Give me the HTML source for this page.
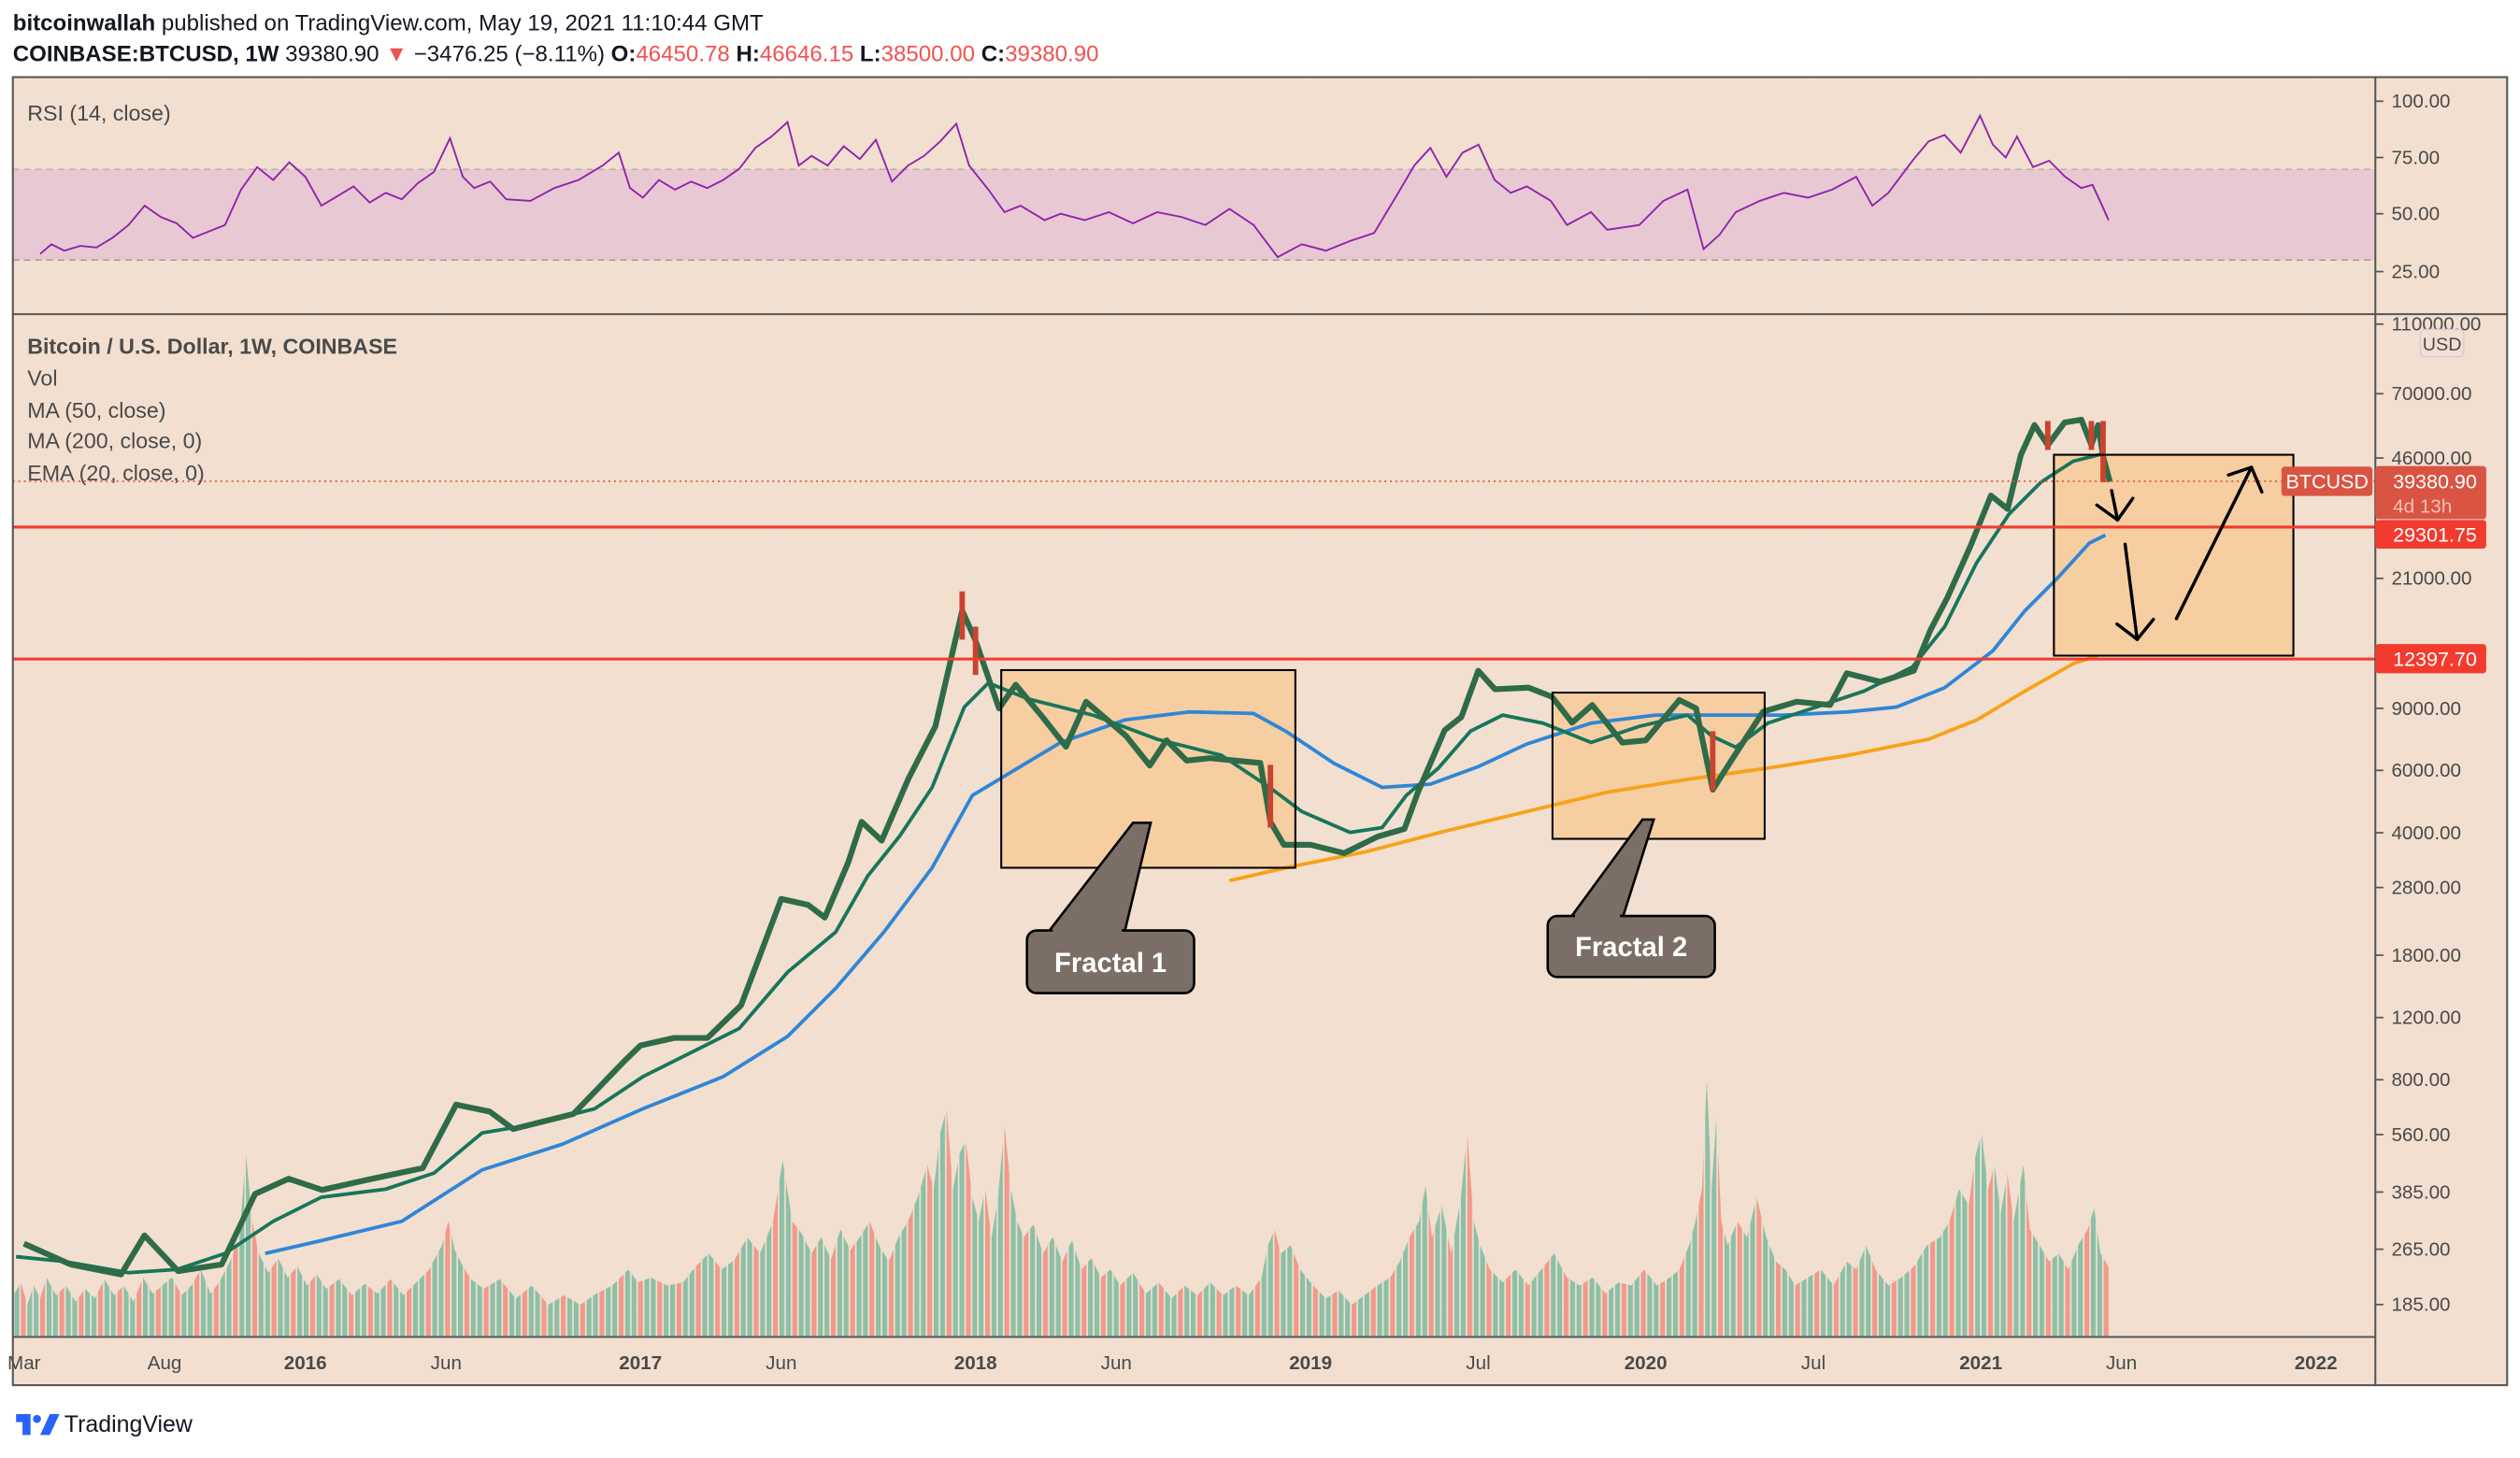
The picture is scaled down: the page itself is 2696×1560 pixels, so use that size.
<!DOCTYPE html>
<html><head><meta charset="utf-8"><style>
html,body{margin:0;padding:0;background:#fff;width:2696px;height:1560px;overflow:hidden}
svg{display:block}
text{font-family:"Liberation Sans",sans-serif}
</style></head><body>
<svg width="2696" height="1560" viewBox="0 0 1568 907.3" xmlns="http://www.w3.org/2000/svg">
<defs>
<pattern id="vp" x="9" y="0" width="12" height="907" patternUnits="userSpaceOnUse">
<rect x="0" y="0" width="3" height="907" fill="#8cc0a6"/>
<rect x="4" y="0" width="3" height="907" fill="#f09a8c"/>
<rect x="8" y="0" width="3" height="907" fill="#8cc0a6"/>
</pattern>
</defs>
<rect x="0" y="0" width="1568" height="907.3" fill="#fff"/>
<text x="8" y="19" font-size="14" fill="#131722"><tspan font-weight="bold">bitcoinwallah</tspan> published on TradingView.com, May 19, 2021 11:10:44 GMT</text>
<text x="8" y="38" font-size="14" fill="#131722"><tspan font-weight="bold">COINBASE:BTCUSD, 1W</tspan> 39380.90 <tspan fill="#ef5350">▼</tspan> −3476.25 (−8.11%) <tspan font-weight="bold">O:</tspan><tspan fill="#ef5350">46450.78</tspan> <tspan font-weight="bold">H:</tspan><tspan fill="#ef5350">46646.15</tspan> <tspan font-weight="bold">L:</tspan><tspan fill="#ef5350">38500.00</tspan> <tspan font-weight="bold">C:</tspan><tspan fill="#ef5350">39380.90</tspan></text>
<rect x="8" y="48" width="1552" height="814" fill="#f2dfcf"/>
<!-- grid -->
<g stroke="#ebe3dc" stroke-width="0.9">
<line x1="15" x2="15" y1="48" y2="832"/><line x1="102.4" x2="102.4" y1="48" y2="832"/><line x1="190" x2="190" y1="48" y2="832"/><line x1="277.6" x2="277.6" y1="48" y2="832"/><line x1="398.5" x2="398.5" y1="48" y2="832"/><line x1="486.1" x2="486.1" y1="48" y2="832"/><line x1="607" x2="607" y1="48" y2="832"/><line x1="694.6" x2="694.6" y1="48" y2="832"/><line x1="815.5" x2="815.5" y1="48" y2="832"/><line x1="919.8" x2="919.8" y1="48" y2="832"/><line x1="1024" x2="1024" y1="48" y2="832"/><line x1="1128.3" x2="1128.3" y1="48" y2="832"/><line x1="1232.5" x2="1232.5" y1="48" y2="832"/><line x1="1320" x2="1320" y1="48" y2="832"/><line x1="1441" x2="1441" y1="48" y2="832"/>
<line x1="8" x2="1478" y1="63" y2="63"/><line x1="8" x2="1478" y1="98" y2="98"/><line x1="8" x2="1478" y1="133" y2="133"/><line x1="8" x2="1478" y1="169" y2="169"/>
<line x1="8" x2="1478" y1="201.7" y2="201.7"/><line x1="8" x2="1478" y1="245" y2="245"/><line x1="8" x2="1478" y1="285" y2="285"/><line x1="8" x2="1478" y1="359.9" y2="359.9"/><line x1="8" x2="1478" y1="440.8" y2="440.8"/><line x1="8" x2="1478" y1="479.4" y2="479.4"/><line x1="8" x2="1478" y1="518.2" y2="518.2"/><line x1="8" x2="1478" y1="552.3" y2="552.3"/><line x1="8" x2="1478" y1="594.4" y2="594.4"/><line x1="8" x2="1478" y1="633.2" y2="633.2"/><line x1="8" x2="1478" y1="671.9" y2="671.9"/><line x1="8" x2="1478" y1="706" y2="706"/><line x1="8" x2="1478" y1="741.8" y2="741.8"/><line x1="8" x2="1478" y1="777.4" y2="777.4"/><line x1="8" x2="1478" y1="811.8" y2="811.8"/>
</g>
<rect x="8" y="105.4" width="1470" height="56.5" fill="#e8c9d3"/>
<line x1="8" x2="1478" y1="105.4" y2="105.4" stroke="#b9a9a9" stroke-dasharray="4,3" stroke-width="0.8"/>
<line x1="8" x2="1478" y1="161.9" y2="161.9" stroke="#9e9696" stroke-dasharray="4,3" stroke-width="0.8"/>
<text x="17" y="75" font-size="13.5" fill="#4a4a4a">RSI (14, close)</text>
<polyline fill="none" stroke="#8e24aa" stroke-width="1.1" points="25,158 32,152 40,156 50,153 60,154 70,148 80,140 90,128 100,135 110,139 120,148 130,144 140,140 150,118 160,104 170,112 180,101 190,110 200,128 210,122 220,116 230,126 240,120 250,124 260,114 270,107 280,86 288,110 295,117 305,113 315,124 330,125 345,117 360,112 375,103 385,95 392,117 400,123 410,112 420,118 430,113 440,117 450,112 460,105 470,92 480,85 490,76 497,103 505,97 515,103 525,91 535,99 545,87 555,113 565,103 575,97 585,88 595,77 603,103 615,118 625,132 635,128 650,137 660,133 675,137 690,132 705,139 720,132 735,135 750,140 765,130 780,140 795,160 810,152 825,156 840,150 855,145 870,120 880,103 890,92 900,110 910,95 920,90 930,112 940,120 950,116 965,125 975,140 990,132 1000,143 1020,140 1035,125 1050,118 1060,155 1070,146 1080,132 1095,125 1110,120 1125,123 1140,118 1155,110 1165,128 1175,120 1190,100 1200,88 1210,84 1220,95 1232,72 1240,90 1248,98 1255,85 1265,104 1275,100 1285,110 1295,117 1302,115 1308,128 1312,137"/>
<!-- volume -->
<polygon fill="url(#vp)" points="9,805 13,798 17,812 21,800 25,808 29,795 35,806 41,800 47,810 53,802 59,808 65,796 71,806 77,800 83,810 89,795 95,805 101,800 107,795 113,806 119,800 125,790 131,805 137,797 143,785 149,770 153,718 157,760 161,780 167,792 173,783 179,795 185,788 191,800 197,793 203,802 211,796 219,806 227,799 235,805 243,796 251,806 259,798 267,790 275,775 279,760 283,778 287,786 293,796 301,802 311,796 321,808 331,800 341,812 351,806 361,812 371,805 381,800 391,790 397,798 405,795 415,800 425,798 433,788 441,780 449,790 457,784 465,770 473,780 481,760 487,722 493,760 499,768 505,780 511,770 517,784 523,765 529,778 535,770 541,760 547,775 553,785 559,770 565,760 571,745 577,725 581,740 585,705 589,690 593,740 597,718 601,710 605,745 609,760 613,740 617,770 621,745 625,700 629,740 633,760 637,770 643,762 649,780 655,770 661,785 667,772 673,790 679,783 685,795 691,790 697,800 705,792 713,805 721,798 729,808 737,800 745,806 753,798 761,806 769,800 777,806 785,795 789,775 793,765 797,780 803,775 809,790 817,800 825,808 833,803 841,812 849,806 857,800 865,795 871,785 877,770 883,760 887,738 891,770 897,750 903,780 909,745 913,705 917,760 921,775 927,790 935,798 943,790 951,800 959,790 967,780 975,795 983,800 991,795 999,805 1007,798 1015,800 1023,790 1031,800 1039,795 1045,790 1051,775 1055,760 1059,740 1062,672 1065,740 1068,695 1071,760 1075,775 1081,760 1087,770 1093,745 1099,770 1105,785 1111,790 1117,800 1125,795 1133,790 1141,800 1149,785 1155,790 1161,775 1167,790 1175,800 1183,795 1191,788 1199,775 1207,770 1213,760 1219,740 1225,750 1229,720 1233,705 1237,740 1241,725 1245,755 1249,730 1253,760 1259,725 1263,765 1269,775 1275,785 1281,780 1287,790 1293,775 1299,765 1303,752 1307,780 1313,790 1313,832 9,832"/>
<!-- boxes -->
<rect x="623" y="417" width="183" height="123" fill="#f6cea2"/>
<rect x="966" y="431" width="132" height="91" fill="#f6cea2"/>
<rect x="1278" y="283" width="149" height="125" fill="#f6cea2"/>
<!-- MAs -->
<polyline fill="none" stroke="#f7a21b" stroke-width="2.2" points="765,548 800,540 850,530 900,517 950,505 1000,493 1050,485 1100,478 1150,470 1200,460 1230,448 1260,430 1290,413 1305,408"/>
<polyline fill="none" stroke="#2f86d6" stroke-width="2.2" points="165,780 200,772 250,760 300,728 350,712 400,690 450,670 490,645 520,615 550,580 580,540 605,495 630,480 660,462 700,448 740,443 780,444 800,455 830,475 860,490 890,488 920,477 950,463 990,450 1030,445 1070,445 1110,445 1150,443 1180,440 1210,428 1240,405 1260,380 1280,360 1300,338 1310,333"/>
<polyline fill="none" stroke="#17755a" stroke-width="2.2" points="10,782 40,785 80,792 110,790 140,780 170,760 200,745 240,740 270,730 300,705 330,700 370,690 400,670 430,655 460,640 490,605 520,580 540,545 560,520 580,490 600,440 615,425 640,435 680,445 720,460 760,470 790,490 810,505 840,518 860,515 875,495 895,478 915,455 935,445 960,450 990,462 1020,452 1050,445 1065,458 1080,465 1100,450 1130,440 1160,430 1190,415 1210,390 1230,350 1250,320 1270,300 1290,287 1310,282"/>
<!-- price -->
<polyline fill="none" stroke="#2f6b48" stroke-width="3.6" stroke-linejoin="round" points="14.9,773.9 44,786.9 75.3,793.1 89.9,768.8 110.8,791 137.9,786.9 158.7,743 179.6,733.5 200.4,740.5 231.7,733.5 263,726.9 283.8,687.4 304.7,691.7 319.3,702.6 356.8,693.2 388.1,660.7 398.5,650.6 419.4,645.9 440.2,645.9 461.1,625.6 486.1,559.4 502.8,563.1 513.2,571 527.8,536.6 536.1,511.4 548.6,523.1 565.3,484.4 582,452 598.7,380 607,398.6 621.6,440.8 632,426.1 648.7,446.2 663.3,464.7 675.8,436.7 700.8,458.1 715.4,476.4 725.8,460.7 738.4,473.3 752.9,471.8 784.2,474.8 790.5,511.4 798.8,525.7 815.5,525.7 836.4,530.9 857.2,520.6 873.9,515.8 882.2,493.2 898.9,454.4 909.3,446.2 919.8,417.4 930.2,428.9 951.1,427.9 965.7,433.6 978.2,449.7 990.7,438.7 1009.5,462.1 1024,460.7 1044.9,435.6 1055.3,440.8 1065.7,491.4 1078.2,471.8 1097,442.9 1117.9,436.7 1138.7,438.7 1149.1,419 1170,424.3 1190.8,417.4 1201.2,392 1211.7,371.9 1226.2,339.5 1238.8,308.4 1249.2,316.7 1257.5,282.9 1265.9,264.5 1274.2,277 1284.6,262.9 1295.1,261.2 1301.3,277 1305.5,264.5 1308.6,284.1 1312.8,299.8"/>
<g stroke="#c9442f" stroke-width="3.4">
<line x1="598.7" y1="368" x2="598.7" y2="398"/><line x1="607" y1="390" x2="607" y2="420"/><line x1="790.5" y1="476" x2="790.5" y2="515"/><line x1="1065.7" y1="455" x2="1065.7" y2="492"/><line x1="1308.6" y1="262" x2="1308.6" y2="300"/><line x1="1274.2" y1="262" x2="1274.2" y2="280"/><line x1="1301.3" y1="262" x2="1301.3" y2="280"/>
</g>
<rect x="623" y="417" width="183" height="123" fill="none" stroke="#000" stroke-width="1.2"/>
<rect x="966" y="431" width="132" height="91" fill="none" stroke="#000" stroke-width="1.2"/>
<rect x="1278" y="283" width="149" height="125" fill="none" stroke="#000" stroke-width="1.2"/>
<line x1="8" x2="1478" y1="299.5" y2="299.5" stroke="#e0533f" stroke-dasharray="1.2,2.2" stroke-width="0.9"/>
<line x1="8" x2="1478" y1="328" y2="328" stroke="#f23b2e" stroke-width="1.8"/>
<line x1="8" x2="1478" y1="410.1" y2="410.1" stroke="#f23b2e" stroke-width="1.8"/>
<!-- callouts -->
<path d="M653,579 L705,512 L716,512 L700,579 Z" fill="#7a6e66" stroke="#000" stroke-width="1.5"/>
<rect x="639" y="579" width="104" height="39" rx="6" fill="#7a6e66" stroke="#000" stroke-width="1.5"/>
<line x1="655" x2="698" y1="579" y2="579" stroke="#7a6e66" stroke-width="2.5"/>
<text x="691" y="605" font-size="17" font-weight="bold" fill="#fff" text-anchor="middle">Fractal 1</text>
<path d="M978,570 L1022,510 L1029,510 L1010,570 Z" fill="#7a6e66" stroke="#000" stroke-width="1.5"/>
<rect x="963" y="570" width="104" height="38" rx="6" fill="#7a6e66" stroke="#000" stroke-width="1.5"/>
<line x1="980" x2="1008" y1="570" y2="570" stroke="#7a6e66" stroke-width="2.5"/>
<text x="1015" y="595" font-size="17" font-weight="bold" fill="#fff" text-anchor="middle">Fractal 2</text>
<!-- arrows -->
<g stroke="#000" stroke-width="2" fill="none" stroke-linecap="round" stroke-linejoin="round">
<path d="M1313.9,305.3 L1317.6,323.6"/><path d="M1304.7,314.3 L1317.6,323.6 L1327.1,310.1"/>
<path d="M1322.3,338.7 L1329.8,397.9"/><path d="M1317.2,388.3 L1329.8,397.9 L1339.9,385.4"/>
<path d="M1354.2,385 L1400.9,290.8"/><path d="M1386.6,295.6 L1400.9,290.8 L1407.4,306.2"/>
</g>
<!-- legend -->
<g font-size="13.5" fill="#4a4a4a">
<text x="17" y="220" font-weight="bold">Bitcoin / U.S. Dollar, 1W, COINBASE</text>
<text x="17" y="240">Vol</text>
<text x="17" y="260">MA (50, close)</text>
<text x="17" y="279">MA (200, close, 0)</text>
<text x="17" y="299">EMA (20, close, 0)</text>
</g>
<!-- frame -->
<g stroke="#555" stroke-width="1.2" fill="none">
<rect x="8" y="48" width="1552" height="814"/>
<line x1="8" x2="1560" y1="195.5" y2="195.5"/>
<line x1="1478" x2="1478" y1="48" y2="862"/>
<line x1="8" x2="1478" y1="832" y2="832"/>
</g>
<!-- axes -->
<g stroke="#555" stroke-width="1">
<line x1="1478" x2="1483" y1="63" y2="63"/><line x1="1478" x2="1483" y1="98" y2="98"/><line x1="1478" x2="1483" y1="133" y2="133"/><line x1="1478" x2="1483" y1="169" y2="169"/>
<line x1="1478" x2="1483" y1="201.7" y2="201.7"/><line x1="1478" x2="1483" y1="245" y2="245"/><line x1="1478" x2="1483" y1="285" y2="285"/><line x1="1478" x2="1483" y1="359.9" y2="359.9"/><line x1="1478" x2="1483" y1="440.8" y2="440.8"/><line x1="1478" x2="1483" y1="479.4" y2="479.4"/><line x1="1478" x2="1483" y1="518.2" y2="518.2"/><line x1="1478" x2="1483" y1="552.3" y2="552.3"/><line x1="1478" x2="1483" y1="594.4" y2="594.4"/><line x1="1478" x2="1483" y1="633.2" y2="633.2"/><line x1="1478" x2="1483" y1="671.9" y2="671.9"/><line x1="1478" x2="1483" y1="706" y2="706"/><line x1="1478" x2="1483" y1="741.8" y2="741.8"/><line x1="1478" x2="1483" y1="777.4" y2="777.4"/><line x1="1478" x2="1483" y1="811.8" y2="811.8"/>
</g>
<g font-size="12" fill="#4a4a4a">
<text x="1488" y="67">100.00</text><text x="1488" y="102">75.00</text><text x="1488" y="137">50.00</text><text x="1488" y="173">25.00</text>
<text x="1488" y="205.7">110000.00</text><text x="1488" y="249">70000.00</text><text x="1488" y="289">46000.00</text><text x="1488" y="363.9">21000.00</text><text x="1488" y="444.8">9000.00</text><text x="1488" y="483.4">6000.00</text><text x="1488" y="522.2">4000.00</text><text x="1488" y="556.3">2800.00</text><text x="1488" y="598.4">1800.00</text><text x="1488" y="637.2">1200.00</text><text x="1488" y="675.9">800.00</text><text x="1488" y="710">560.00</text><text x="1488" y="745.8">385.00</text><text x="1488" y="781.4">265.00</text><text x="1488" y="815.8">185.00</text>
</g>
<g font-size="12" fill="#4a4a4a" text-anchor="middle">
<text x="15" y="852">Mar</text><text x="102.4" y="852">Aug</text><text x="190" y="852" font-weight="bold">2016</text><text x="277.6" y="852">Jun</text><text x="398.5" y="852" font-weight="bold">2017</text><text x="486.1" y="852">Jun</text><text x="607" y="852" font-weight="bold">2018</text><text x="694.6" y="852">Jun</text><text x="815.5" y="852" font-weight="bold">2019</text><text x="919.8" y="852">Jul</text><text x="1024" y="852" font-weight="bold">2020</text><text x="1128.3" y="852">Jul</text><text x="1232.5" y="852" font-weight="bold">2021</text><text x="1320" y="852">Jun</text><text x="1441" y="852" font-weight="bold">2022</text>
</g>
<rect x="1506" y="205" width="27" height="17" rx="3" fill="#f2dfcf" stroke="#d0cbe0" stroke-width="0.8"/>
<text x="1519.5" y="218" font-size="11.5" fill="#4a4a4a" text-anchor="middle">USD</text>
<rect x="1419.6" y="290.4" width="56.6" height="18.2" rx="2" fill="#d95443"/>
<text x="1448" y="304" font-size="12.5" fill="#fff" text-anchor="middle">BTCUSD</text>
<rect x="1478" y="290" width="69" height="33" rx="2" fill="#d95443"/>
<text x="1489" y="304" font-size="12.5" fill="#fff">39380.90</text>
<text x="1489" y="319" font-size="12" fill="#f3c0b5">4d 13h</text>
<rect x="1478" y="323.6" width="69" height="17.8" rx="2" fill="#f23b2e"/>
<text x="1489" y="337" font-size="12.5" fill="#fff">29301.75</text>
<rect x="1478" y="400.8" width="69" height="18.2" rx="2" fill="#f23b2e"/>
<text x="1489" y="414.5" font-size="12.5" fill="#fff">12397.70</text>
<!-- footer -->
<g transform="translate(10,877)">
<path d="M0,3 h9 v13 h-5 v-8 h-4 Z" fill="#2962ff"/>
<circle cx="13" cy="6" r="2.5" fill="#2962ff"/>
<path d="M15,16 L21,3 h6 l-6,13 Z" fill="#2962ff"/>
</g>
<text x="40" y="891" font-size="14.5" fill="#131722">TradingView</text>
</svg>
</body></html>
